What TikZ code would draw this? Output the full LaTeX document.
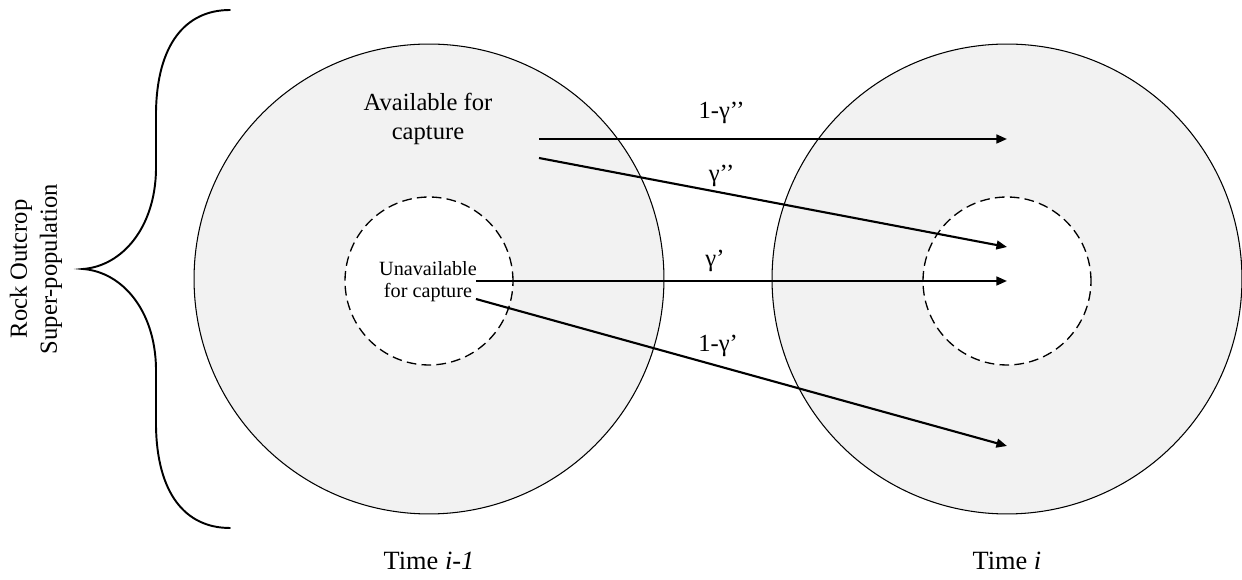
\documentclass[tikz,border=0pt]{standalone}
\usepackage{fontspec}
\setmainfont{Liberation Serif}
\usetikzlibrary{arrows.meta,positioning,calc}
\definecolor{popgray}{RGB}{242,242,242}
\tikzset{
  % Population at one time step: grey disc, thin outline
  popcirc/.style={draw, circle, fill=popgray, line width=0.6pt, minimum size=9.4cm, inner sep=0pt},
  % Unavailable part of the population: dashed, white inside
  subcirc/.style={draw, circle, dash pattern=on 5.5pt off 3pt, fill=white, line width=0.75pt,
                  minimum size=3.36cm, inner sep=0pt},
  % Transition arrows
  transarr/.style={-{Triangle[length=6pt,width=5pt]}, line width=1.2pt},
  % Brace
  bracel/.style={line width=1.1pt, line cap=round},
  % Labels
  lbl/.style={font=\fontsize{14}{17}\selectfont, align=center, inner sep=1pt},
  lbl-small/.style={font=\fontsize{11.5}{12.5}\selectfont, align=center, inner sep=1pt},
  problbl/.style={font=\fontsize{14}{17}\selectfont, inner sep=1pt},
  timelbl/.style={font=\fontsize{15}{18}\selectfont, inner sep=1pt}
}
\begin{document}
\begin{tikzpicture}[x=0.02cm, y=-0.02cm]
\useasboundingbox (0,0) rectangle (1242,580);

% ============== Populations at time i-1 and time i ==============
\node[popcirc] (prevpop) at (429,279) {};
\node[popcirc] (currpop) at (1007,279) {};
\node[subcirc] (prevsub) at (429,281) {};
\node[subcirc] (currsub) at (1007,281) {};

\node[lbl] (availtxt) at (428,119) {Available for\\capture};
\node[lbl-small] (unavailtxt) at (428,282) {Unavailable\\for capture};

\node[timelbl] (prevtime) at (429,561) {Time \textit{i-1}};
\node[timelbl] (currtime) at (1007,561) {Time \textit{i}};

% ============== Super-population brace ==============
\draw[bracel] (230,10) .. controls (185,10) and (157,45) .. (156,112)
  -- (156,170) .. controls (155,228) and (122,266) .. (83,269)
  .. controls (122,272) and (155,310) .. (156,368)
  -- (156,426) .. controls (157,493) and (185,528) .. (230,528);
\node[lbl, rotate=90] (superpop) at (36,269) {Rock Outcrop\\Super-population};

% ============== Transitions ==============
% start points sit right of the two text blocks, end points near the centre of currpop
\coordinate (availA) at (539,139);
\coordinate (availB) at (539,158);
\coordinate (unavailA) at (476,281);
\coordinate (unavailB) at (476,299);
\coordinate (toavail) at (1007,139);
\coordinate (tosubA) at (1007,247);
\coordinate (tosubB) at (1007,281);
\coordinate (toavailB) at (1007,446);

\draw[transarr] (availA) -- node[problbl, pos=0.39, above=7pt] {1-γ’’} (toavail);
\draw[transarr] (availB) -- node[problbl, pos=0.39, above=2pt] {γ’’} (tosubA);
\draw[transarr] (unavailA) -- node[problbl, pos=0.45, above=3.5pt] {γ’} (tosubB);
\draw[transarr] (unavailB) -- node[problbl, pos=0.456, above=3.5pt] {1-γ’} (toavailB);

\end{tikzpicture}
\end{document}
